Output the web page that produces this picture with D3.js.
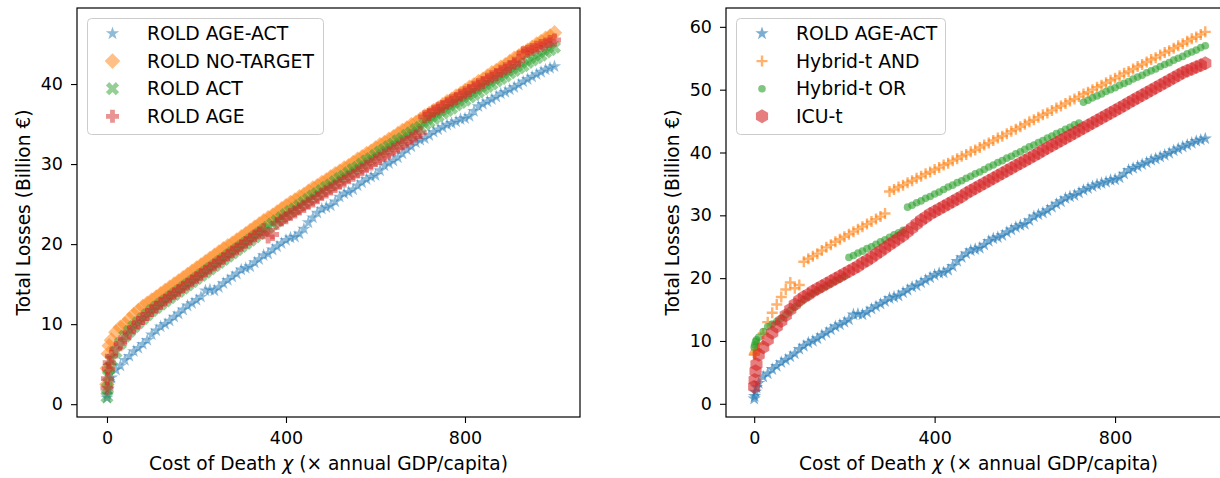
<!DOCTYPE html>
<html>
<head>
<meta charset="utf-8">
<script src="https://cdn.jsdelivr.net/npm/d3@7"></script>
<style>
  body { margin: 0; background: #fff; }
  text { font-family: "DejaVu Sans", sans-serif; }
</style>
</head>
<body>
<svg id="chart" width="1220" height="478"></svg>
<script>

// cost of death chi (x annual GDP/capita), shared by every series
const chi = [
  0, 1, 3, 5,
  10, 20, 30, 40, 50, 60, 70, 80, 90, 100,
  110, 120, 130, 140, 150, 160, 170, 180, 190, 200,
  210, 220, 230, 240, 250, 260, 270, 280, 290, 300,
  310, 320, 330, 340, 350, 360, 370, 380, 390, 400,
  410, 420, 430, 440, 450, 460, 470, 480, 490, 500,
  510, 520, 530, 540, 550, 560, 570, 580, 590, 600,
  610, 620, 630, 640, 650, 660, 670, 680, 690, 700,
  710, 720, 730, 740, 750, 760, 770, 780, 790, 800,
  810, 820, 830, 840, 850, 860, 870, 880, 890, 900,
  910, 920, 930, 940, 950, 960, 970, 980, 990, 1000
];

// total losses (billion euro)
const roldAgeAct = [
  0.8, 1.2, 1.9, 2.6,
  3.3, 4.3, 4.8, 5.5, 6.0, 6.6, 7.0, 7.5, 8.0, 8.7,
  9.2, 9.7, 10.0, 10.4, 10.9, 11.3, 11.8, 12.3, 12.6, 13.0,
  13.4, 14.2, 14.3, 14.2, 14.6, 15.1, 15.5, 15.9, 16.3, 16.8,
  17.0, 17.2, 17.7, 18.1, 18.6, 18.8, 19.3, 19.7, 20.1, 20.5,
  20.8, 20.9, 21.3, 21.9, 22.7, 23.3, 23.9, 24.4, 24.6, 24.8,
  25.3, 25.9, 26.3, 26.5, 26.8, 27.3, 27.7, 28.1, 28.4, 28.6,
  29.2, 29.8, 30.1, 30.4, 30.8, 31.3, 31.8, 32.2, 32.7, 33.0,
  33.2, 33.6, 34.0, 34.3, 34.6, 34.9, 35.1, 35.3, 35.6, 35.7,
  36.0, 36.6, 37.2, 37.5, 37.8, 38.1, 38.4, 38.8, 39.0, 39.3,
  39.6, 39.9, 40.3, 40.6, 40.9, 41.2, 41.5, 41.8, 42.0, 42.2
];

const roldNoTarget = [
  2.5, 4.5, 6.3, 7.3,
  8.0, 9.0, 9.6, 10.0, 10.6, 11.2, 11.7, 12.2, 12.6, 13.0,
  13.4, 13.8, 14.2, 14.6, 15.0, 15.4, 15.8, 16.2, 16.6, 17.0,
  17.4, 17.8, 18.2, 18.6, 19.0, 19.4, 19.8, 20.1, 20.5, 20.9,
  21.3, 21.7, 22.1, 22.5, 22.9, 23.3, 23.6, 24.0, 24.4, 24.8,
  25.2, 25.5, 25.9, 26.2, 26.6, 27.0, 27.3, 27.7, 28.0, 28.4,
  28.8, 29.1, 29.5, 29.8, 30.2, 30.6, 30.9, 31.3, 31.6, 32.0,
  32.4, 32.7, 33.1, 33.4, 33.8, 34.2, 34.5, 34.9, 35.2, 35.6,
  36.0, 36.3, 36.7, 37.0, 37.4, 37.8, 38.1, 38.5, 38.8, 39.2,
  39.6, 39.9, 40.3, 40.6, 41.0, 41.4, 41.7, 42.1, 42.4, 42.8,
  43.2, 43.5, 43.9, 44.2, 44.6, 45.0, 45.3, 45.7, 46.0, 46.4
];

const roldAct = [
  0.9, 2.0, 3.5, 4.5,
  5.5, 6.5, 7.6, 8.5, 9.1, 9.7, 10.2, 10.7, 11.2, 11.7,
  12.1, 12.5, 12.9, 13.3, 13.7, 14.1, 14.5, 14.9, 15.3, 15.7,
  16.1, 16.5, 16.9, 17.3, 17.7, 18.1, 18.5, 18.9, 19.3, 19.7,
  20.1, 20.5, 20.9, 21.3, 21.7, 22.1, 22.5, 22.9, 23.3, 23.7,
  24.1, 24.4, 24.8, 25.2, 25.6, 26.0, 26.3, 26.7, 27.1, 27.4,
  27.8, 28.2, 28.5, 28.9, 29.3, 29.6, 30.0, 30.4, 30.7, 31.1,
  31.5, 31.8, 32.2, 32.5, 32.9, 33.2, 33.6, 33.9, 34.3, 34.6,
  35.0, 35.3, 35.7, 36.0, 36.4, 36.7, 37.0, 37.4, 37.7, 38.0,
  38.4, 38.7, 39.0, 39.4, 39.7, 40.0, 40.4, 40.7, 41.0, 41.4,
  41.7, 42.0, 42.3, 42.7, 43.0, 43.3, 43.6, 44.0, 44.3, 44.6
];

const roldAge = [
  2.0, 3.2, 4.4, 5.2,
  6.0, 6.9, 7.6, 8.3, 9.0, 9.6, 10.2, 10.7, 11.2, 11.7,
  12.1, 12.6, 13.0, 13.4, 13.8, 14.2, 14.6, 15.0, 15.4, 15.8,
  16.2, 16.6, 17.0, 17.4, 17.8, 18.2, 18.6, 19.0, 19.4, 19.8,
  20.2, 20.6, 21.0, 21.4, 21.8, 20.9, 21.2, 22.6, 23.0, 23.3,
  23.7, 24.0, 24.4, 24.7, 25.1, 25.4, 25.8, 26.2, 26.5, 26.9,
  27.2, 27.6, 27.9, 28.3, 28.6, 29.0, 29.3, 29.7, 30.0, 30.4,
  30.7, 31.1, 31.4, 31.8, 32.1, 32.5, 32.8, 33.2, 33.5, 33.9,
  35.9, 36.2, 36.6, 36.9, 37.2, 37.6, 37.9, 38.2, 38.6, 38.9,
  39.2, 39.6, 39.9, 40.2, 40.6, 40.9, 41.2, 41.6, 41.9, 42.2,
  42.6, 42.9, 43.9, 44.1, 44.3, 44.6, 44.8, 45.0, 45.3, 45.5
];

const hybridAnd = [
  7.8, 8.0, 8.3, 8.6,
  9.5, 11.2, 13.0, 14.5, 15.8, 17.0, 18.2, 19.3, 18.4, 18.9,
  22.6, 23.1, 23.5, 23.9, 24.4, 24.9, 25.3, 25.8, 26.2, 26.6,
  27.0, 27.4, 27.8, 28.2, 28.6, 29.0, 29.4, 29.8, 30.3, 33.8,
  34.1, 34.5, 34.8, 35.2, 35.5, 35.9, 36.2, 36.6, 36.9, 37.3,
  37.6, 38.0, 38.3, 38.7, 39.0, 39.4, 39.7, 40.1, 40.4, 40.8,
  41.2, 41.5, 41.9, 42.3, 42.6, 43.0, 43.4, 43.7, 44.1, 44.5,
  44.9, 45.2, 45.6, 46.0, 46.3, 46.7, 47.1, 47.4, 47.8, 48.2,
  48.5, 48.9, 49.3, 49.6, 50.0, 50.4, 50.7, 51.1, 51.5, 51.8,
  52.2, 52.6, 52.9, 53.3, 53.7, 54.0, 54.4, 54.8, 55.1, 55.5,
  55.9, 56.2, 56.6, 57.0, 57.3, 57.7, 58.1, 58.4, 58.8, 59.2
];

const hybridOr = [
  9.0, 9.4, 9.9, 10.2,
  10.6, 11.5, 12.3, 12.7, 13.1, 13.6, 14.2, 14.9, 15.4, 16.0,
  16.6, 17.1, 17.6, 18.0, 18.4, 18.8, 19.2, 19.6, 19.9, 20.3,
  23.3, 23.6, 24.0, 24.3, 24.7, 25.0, 25.4, 25.8, 26.1, 26.5,
  26.9, 27.2, 27.6, 31.3, 31.6, 32.0, 32.3, 32.7, 33.0, 33.4,
  33.7, 34.1, 34.5, 34.8, 35.2, 35.5, 35.9, 36.2, 36.6, 36.9,
  37.3, 37.7, 38.0, 38.4, 38.7, 39.1, 39.4, 39.8, 40.1, 40.5,
  40.9, 41.2, 41.6, 41.9, 42.3, 42.6, 43.0, 43.3, 43.7, 44.0,
  44.4, 44.7, 48.0, 48.3, 48.7, 49.0, 49.3, 49.7, 50.0, 50.3,
  50.7, 51.0, 51.3, 51.7, 52.0, 52.3, 52.7, 53.0, 53.3, 53.7,
  54.0, 54.3, 54.7, 55.0, 55.3, 55.7, 56.0, 56.3, 56.7, 57.0
];

const icuT = [
  2.7, 3.8, 5.2, 6.3,
  7.8, 9.0, 10.2, 11.3, 12.3, 13.2, 14.1, 15.0, 15.8, 16.5,
  17.0, 17.4, 17.9, 18.3, 18.7, 19.1, 19.5, 19.9, 20.3, 20.7,
  21.1, 21.5, 21.9, 22.4, 22.8, 23.3, 23.8, 24.3, 24.8, 25.3,
  25.8, 26.3, 26.8, 27.4, 28.0, 28.6, 29.2, 29.7, 30.2, 30.6,
  31.0, 31.4, 31.8, 32.2, 32.6, 33.0, 33.5, 33.9, 34.3, 34.7,
  35.1, 35.5, 35.9, 36.3, 36.7, 37.1, 37.5, 37.9, 38.3, 38.7,
  39.1, 39.5, 39.9, 40.3, 40.7, 41.1, 41.5, 41.9, 42.3, 42.7,
  43.1, 43.5, 43.9, 44.3, 44.7, 45.1, 45.5, 45.9, 46.3, 46.7,
  47.1, 47.5, 47.9, 48.3, 48.7, 49.1, 49.5, 49.9, 50.3, 50.7,
  51.1, 51.5, 51.9, 52.3, 52.7, 53.0, 53.3, 53.6, 53.9, 54.2
];

const xTicks = [0, 400, 800];
const yTicksLeft = [0, 10, 20, 30, 40];
const yTicksRight = [0, 10, 20, 30, 40, 50, 60];


// marker shapes, centred on 0,0
const polygon = (pts) => 'M' + pts.map((p) => p[0].toFixed(2) + ',' + p[1].toFixed(2)).join('L') + 'Z';

const starPath = (r) => polygon(d3.range(10).map((i) => {
  const a = -Math.PI / 2 + i * Math.PI / 5;
  const rr = i % 2 ? r * 0.382 : r;
  return [rr * Math.cos(a), rr * Math.sin(a)];
}));

const crossPoints = (a, w) => [
  [-w, -a], [w, -a], [w, -w], [a, -w], [a, w], [w, w],
  [w, a], [-w, a], [-w, w], [-a, w], [-a, -w], [-w, -w]
];

const plusFilledPath = (a, w) => polygon(crossPoints(a, w));

const xFilledPath = (a, w) => {
  const c = Math.SQRT1_2;
  return polygon(crossPoints(a, w).map((p) => [c * (p[0] - p[1]), c * (p[0] + p[1])]));
};

const diamondPath = (r) => polygon([[0, -r], [r, 0], [0, r], [-r, 0]]);

const hexagonPath = (r) => polygon(d3.range(6).map((i) => {
  const a = -Math.PI / 2 + i * Math.PI / 3;
  return [r * Math.cos(a), r * Math.sin(a)];
}));

const circlePath = (r) => `M${r},0A${r},${r} 0 1,1 ${-r},0A${r},${r} 0 1,1 ${r},0Z`;

const plusLinePath = (a) => `M${-a},0H${a}M0,${-a}V${a}`;


const leftSeries = [
  { name: 'ROLD AGE-ACT', values: roldAgeAct, color: '#1f77b4', shape: starPath(7) },
  { name: 'ROLD NO-TARGET', values: roldNoTarget, color: '#ff7f0e', shape: diamondPath(7.8) },
  { name: 'ROLD ACT', values: roldAct, color: '#2ca02c', shape: xFilledPath(7, 2.3) },
  { name: 'ROLD AGE', values: roldAge, color: '#d62728', shape: plusFilledPath(6.5, 2.4) }
];

const rightSeries = [
  { name: 'ROLD AGE-ACT', values: roldAgeAct, color: '#1f77b4', shape: starPath(7) },
  { name: 'Hybrid-t AND', values: hybridAnd, color: '#ff7f0e', shape: plusLinePath(5.5), stroked: true },
  { name: 'Hybrid-t OR', values: hybridOr, color: '#2ca02c', shape: circlePath(3.8) },
  { name: 'ICU-t', values: icuT, color: '#d62728', shape: hexagonPath(7) }
];


const svg = d3.select('#chart');

const styleMarker = (sel, s, alpha) => {
  if (s.stroked) {
    sel.attr('fill', 'none')
       .attr('stroke', s.color)
       .attr('stroke-width', 2.4)
       .attr('stroke-opacity', alpha);
  } else {
    sel.attr('fill', s.color)
       .attr('fill-opacity', alpha);
  }
  return sel;
};

const drawPanel = (box, xDomain, yDomain, yTicks, series, alpha, legendBox) => {
  const x = d3.scaleLinear().domain(xDomain).range([box.left, box.right]);
  const y = d3.scaleLinear().domain(yDomain).range([box.bottom, box.top]);

  // data markers
  series.forEach((s) => {
    const marks = svg.append('g')
        .selectAll('path')
        .data(chi.map((c, i) => [c, s.values[i]]))
        .enter()
        .append('path')
          .attr('d', s.shape)
          .attr('transform', (d) => `translate(${x(d[0])},${y(d[1])})`);
    styleMarker(marks, s, alpha);
  });

  // axes
  const xAxis = svg.append('g')
      .attr('transform', `translate(0,${box.bottom})`)
      .call(d3.axisBottom(x).tickValues(xTicks).tickSize(6).tickSizeOuter(0).tickPadding(9));

  const yAxis = svg.append('g')
      .attr('transform', `translate(${box.left},0)`)
      .call(d3.axisLeft(y).tickValues(yTicks).tickSize(6).tickSizeOuter(0).tickPadding(8));

  [xAxis, yAxis].forEach((ax) => {
    ax.select('.domain').remove();
    ax.selectAll('line').attr('stroke', '#000').attr('stroke-width', 1.1);
    ax.selectAll('text')
        .attr('fill', '#000')
        .style('font-family', '"DejaVu Sans"')
        .style('font-size', '17.5px');
  });

  // frame
  svg.append('rect')
      .attr('x', box.left)
      .attr('y', box.top)
      .attr('width', box.right - box.left)
      .attr('height', box.bottom - box.top)
      .attr('fill', 'none')
      .attr('stroke', '#000')
      .attr('stroke-width', 1.2);

  // axis labels
  const xLabel = svg.append('text')
      .attr('x', (box.left + box.right) / 2)
      .attr('y', 470)
      .attr('text-anchor', 'middle')
      .style('font-size', '18.6px');
  xLabel.append('tspan').text('Cost of Death ');
  xLabel.append('tspan').style('font-style', 'italic').text('χ');
  xLabel.append('tspan').text(' (× annual GDP/capita)');

  svg.append('text')
      .attr('transform', `translate(${box.left - 47},${(box.top + box.bottom) / 2}) rotate(-90)`)
      .attr('text-anchor', 'middle')
      .style('font-size', '18.6px')
      .text('Total Losses (Billion €)');

  // legend
  const legend = svg.append('g');
  legend.append('rect')
      .attr('x', legendBox.x + 0.5)
      .attr('y', legendBox.y + 0.5)
      .attr('width', legendBox.w)
      .attr('height', legendBox.h)
      .attr('rx', 4)
      .attr('fill', '#fff')
      .attr('fill-opacity', 0.8)
      .attr('stroke', '#cccccc')
      .attr('stroke-width', 1);

  const rows = legend.selectAll('g.row')
      .data(series)
      .enter()
      .append('g')
        .attr('class', 'row')
        .attr('transform', (d, i) => `translate(0,${legendBox.y + 15.5 + i * 27.6})`);

  rows.each(function(s) {
    const m = d3.select(this).append('path')
        .attr('d', s.shape)
        .attr('transform', `translate(${legendBox.markerX},0)`);
    styleMarker(m, s, alpha);
  });

  rows.append('text')
      .attr('x', legendBox.textX)
      .attr('dy', '0.36em')
      .style('font-size', '18.8px')
      .text((d) => d.name);
};

drawPanel({ left: 77, right: 580, top: 8, bottom: 417 }, [-67, 1057], [-1.6, 49.5], yTicksLeft, leftSeries, 0.5,
  { x: 87, y: 18, w: 236, h: 116, markerX: 112.5, textX: 147 });

drawPanel({ left: 726, right: 1231, top: 8, bottom: 417 }, [-62.5, 1057], [-2.1, 63], yTicksRight, rightSeries, 0.6,
  { x: 736, y: 18, w: 209, h: 116, markerX: 762, textX: 796 });

</script>
</body>
</html>
